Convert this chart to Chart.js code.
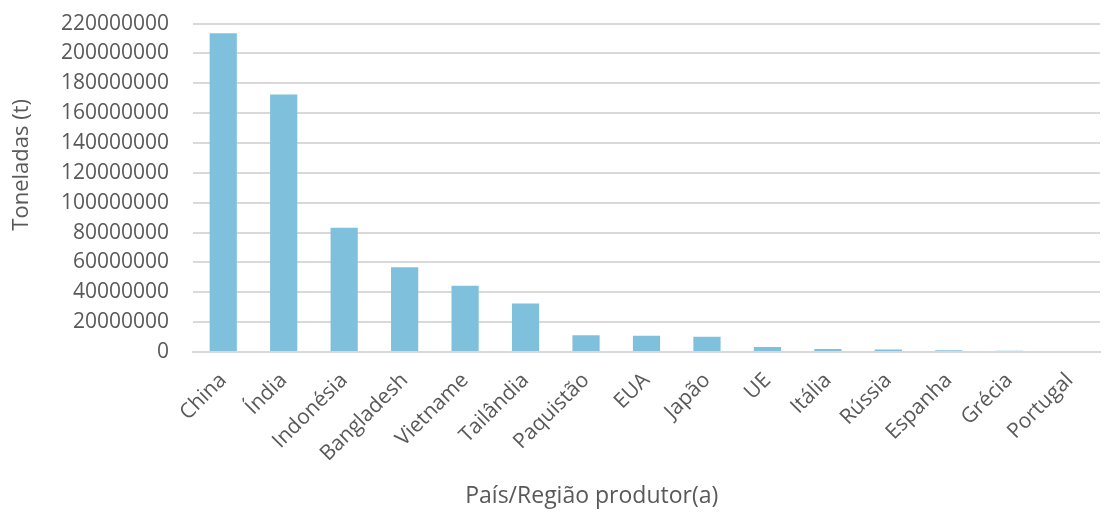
<!DOCTYPE html>
<html lang="pt">
<head>
    <meta charset="UTF-8">
    <title>Produção por país</title>
    <style>
        html, body { margin: 0; padding: 0; background: #fff; overflow: hidden; }
        /* canvas is pulled up a little so the top gridline lands where the original has it */
        #wrap { width: 1104px; height: 526px; position: relative; top: -13px; }
    </style>
</head>
<body>
    <div id="wrap"><canvas id="prodChart"></canvas></div>

    <script src="https://cdn.jsdelivr.net/npm/chart.js"></script>
    <script>
        // Data
        const categories = ['China', 'Índia', 'Indonésia', 'Bangladesh', 'Vietname', 'Tailândia',
            'Paquistão', 'EUA', 'Japão', 'UE', 'Itália', 'Rússia', 'Espanha', 'Grécia', 'Portugal'];
        const toneladas = [213500000, 172500000, 83200000, 56800000, 44300000, 32500000,
            11300000, 10900000, 10200000, 3300000, 2000000, 1600000, 1200000, 900000, 700000];
        const yTicks = { min: 0, max: 220000000, step: 20000000 };
        const xTitle = 'País/Região produtor(a)';
        const yTitle = 'Toneladas (t)';

        const font = "'Open Sans', 'DejaVu Sans', sans-serif";
        const grey = '#595959';

        // axis titles are off-centre in the original, so they are drawn by hand
        const titlesPlugin = {
            id: 'axisTitles',
            afterDraw(chart) {
                const c = chart.ctx;
                const area = chart.chartArea;
                c.save();
                c.font = '23px ' + font;
                c.fillStyle = grey;
                c.textAlign = 'center';
                c.textBaseline = 'middle';
                c.fillText(xTitle, chart.width * 0.536, chart.height - 17);

                c.font = '22px ' + font;
                c.translate(22, area.top + (area.bottom - area.top) * 0.43);
                c.rotate(-Math.PI / 2);
                c.fillText(yTitle, 0, 0);
                c.restore();
            }
        };

        const ctx = document.getElementById('prodChart').getContext('2d');
        new Chart(ctx, {
            type: 'bar',
            data: {
                labels: categories,
                datasets: [{
                    label: 'Toneladas (t)',
                    data: toneladas,
                    backgroundColor: '#7fc1dc',
                    borderWidth: 0,
                    barPercentage: 0.45,
                    categoryPercentage: 1
                }]
            },
            options: {
                responsive: true,
                maintainAspectRatio: false,
                animation: false,
                layout: { padding: { top: 0, right: 4, left: 0, bottom: 0 } },
                plugins: {
                    legend: { display: false },
                    tooltip: { enabled: false }
                },
                scales: {
                    x: {
                        grid: { display: false, drawTicks: false },
                        border: { color: '#d9d9d9', width: 2 },
                        ticks: {
                            color: grey,
                            font: { family: font, size: 21 },
                            minRotation: 45,
                            maxRotation: 45,
                            padding: 16
                        },
                        afterFit: (scale) => { scale.height = 161; }
                    },
                    y: {
                        min: yTicks.min,
                        max: yTicks.max,
                        grid: { color: '#d9d9d9', lineWidth: 2, drawTicks: false },
                        border: { display: false },
                        ticks: {
                            stepSize: yTicks.step,
                            color: grey,
                            font: { family: font, size: 21 },
                            padding: 24,
                            callback: (v) => String(v)
                        },
                        afterFit: (scale) => { scale.width = 193; }
                    }
                }
            },
            plugins: [titlesPlugin]
        });
    </script>
</body>
</html>
